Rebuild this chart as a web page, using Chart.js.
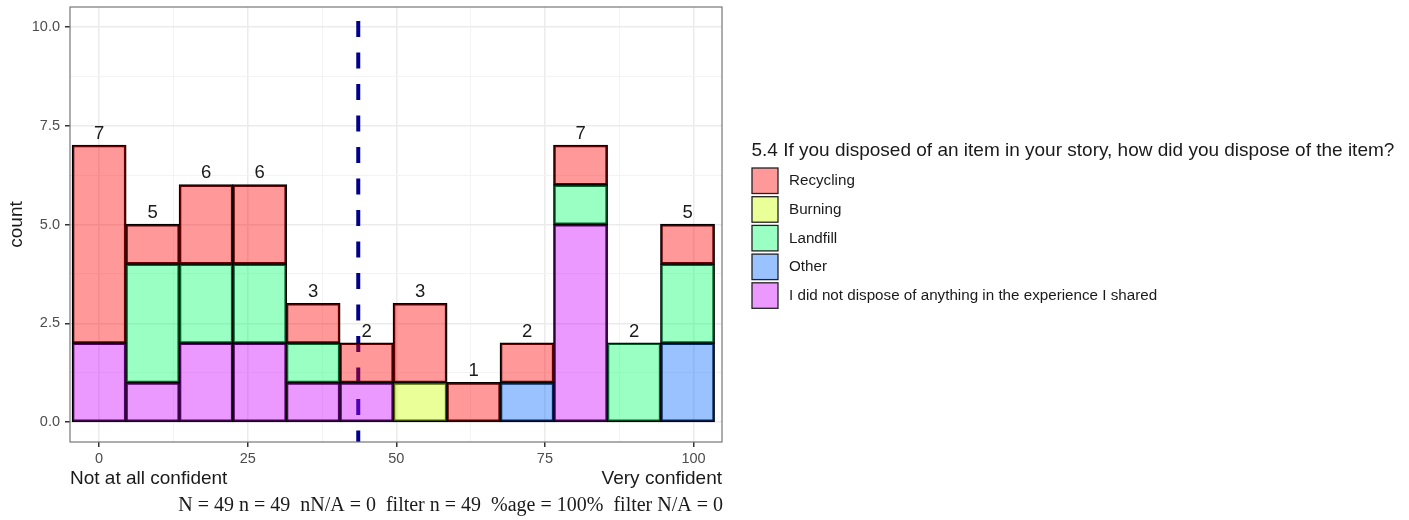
<!DOCTYPE html>
<html>
<head>
<meta charset="utf-8">
<script src="https://cdn.jsdelivr.net/npm/chart.js@4"></script>
<style>
  body { margin: 0; background: #fff; }
  #wrap { width: 1409px; height: 520px; }
</style>
</head>
<body>
<div id="wrap"><canvas id="myChart" width="1409" height="520"></canvas></div>
<script>
// histogram bins (centres) and stacked counts per disposal method
const bins = [0, 9, 18, 27, 36, 45, 54, 63, 72, 81, 90, 99];
const recycling = [5, 1, 2, 2, 1, 1, 2, 1, 1, 1, 0, 1];
const burning = [0, 0, 0, 0, 0, 0, 1, 0, 0, 0, 0, 0];
const landfill = [0, 3, 2, 2, 1, 0, 0, 0, 0, 1, 2, 2];
const other = [0, 0, 0, 0, 0, 0, 0, 0, 1, 0, 0, 2];
const noDisposal = [2, 1, 2, 2, 1, 1, 0, 0, 0, 5, 0, 0];

const seriesNames = ['Recycling', 'Burning', 'Landfill', 'Other', 'I did not dispose of anything in the experience I shared'];
const seriesColors = ['rgba(255,0,0,0.4)', 'rgba(204,255,0,0.4)', 'rgba(0,255,102,0.4)', 'rgba(0,102,255,0.4)', 'rgba(204,0,255,0.4)'];

const meanScore = 43.6;
const xTicks = [0, 25, 50, 75, 100];
const xMinor = [12.5, 37.5, 62.5, 87.5];
const yTicks = [0, 2.5, 5, 7.5, 10];
const yMinor = [1.25, 3.75, 6.25, 8.75];

const legendTitle = '5.4 If you disposed of an item in your story, how did you dispose of the item?';
const lowLabel = 'Not at all confident';
const highLabel = 'Very confident';
const caption = 'N = 49 n = 49  nN/A = 0  filter n = 49  %age = 100%  filter N/A = 0';

const SANS = '"Liberation Sans", Arial, sans-serif';
Chart.defaults.font.family = SANS;

function toPoints(vals) {
    return bins.map((x, i) => ({x: x, y: vals[i]})).filter(p => p.y > 0);
}

// stacked bottom -> top like ggplot
const stackOrder = [
    [noDisposal, 4], [other, 3], [landfill, 2], [burning, 1], [recycling, 0]
];
const datasets = stackOrder.map(([vals, k]) => ({
    label: seriesNames[k],
    data: toPoints(vals),
    backgroundColor: seriesColors[k],
    borderColor: '#000',
    borderWidth: 1.3,
    borderSkipped: false,
    inflateAmount: 0.65,
    barPercentage: 1,
    categoryPercentage: 1
}));

const totals = bins.map((b, i) => recycling[i] + burning[i] + landfill[i] + other[i] + noDisposal[i]);

const isMajorX = v => xTicks.includes(v);
const isMajorY = v => yTicks.includes(v);

const meanLine = {
    id: 'meanLine',
    beforeDatasetsDraw(chart) {
        const {ctx, chartArea} = chart;
        const x = chart.scales.x.getPixelForValue(meanScore);
        ctx.save();
        ctx.strokeStyle = '#00008B';
        ctx.lineWidth = 4;
        ctx.setLineDash([16, 15.5]);
        ctx.lineDashOffset = 17.5;
        ctx.beginPath();
        ctx.moveTo(x, chartArea.top);
        ctx.lineTo(x, chartArea.bottom);
        ctx.stroke();
        ctx.restore();
    }
};

const barLabels = {
    id: 'barLabels',
    afterDatasetsDraw(chart) {
        const {ctx} = chart;
        ctx.save();
        ctx.fillStyle = '#1a1a1a';
        ctx.font = '18.5px ' + SANS;
        ctx.textAlign = 'center';
        ctx.textBaseline = 'alphabetic';
        bins.forEach((b, i) => {
            const x = chart.scales.x.getPixelForValue(b);
            const y = chart.scales.y.getPixelForValue(totals[i]);
            ctx.fillText(String(totals[i]), x, y - 6.5);
        });
        ctx.restore();
    }
};

const decor = {
    id: 'decor',
    afterDraw(chart) {
        const {ctx, chartArea} = chart;
        ctx.save();
        // panel border
        ctx.strokeStyle = '#777';
        ctx.lineWidth = 1.2;
        ctx.strokeRect(chartArea.left, chartArea.top, chartArea.right - chartArea.left, chartArea.bottom - chartArea.top);

        // axis end labels
        ctx.fillStyle = '#1a1a1a';
        ctx.font = '19px ' + SANS;
        ctx.textBaseline = 'alphabetic';
        ctx.textAlign = 'left';
        ctx.fillText(lowLabel, chartArea.left, 484);
        ctx.textAlign = 'right';
        ctx.fillText(highLabel, chartArea.right, 484);

        // caption
        ctx.font = '20px "Liberation Serif", "Times New Roman", serif';
        ctx.fillText(caption, chartArea.right + 1, 511);

        // legend
        const lx = 752;
        ctx.textAlign = 'left';
        ctx.font = '19px ' + SANS;
        ctx.fillText(legendTitle, lx - 0.5, 155.5);
        ctx.font = '15.2px ' + SANS;
        ctx.textBaseline = 'middle';
        seriesNames.forEach((name, k) => {
            const y = 168 + k * 28.7;
            ctx.fillStyle = '#fff';
            ctx.fillRect(lx, y, 26, 25.5);
            ctx.fillStyle = seriesColors[k];
            ctx.fillRect(lx, y, 26, 25.5);
            ctx.strokeStyle = '#222';
            ctx.lineWidth = 1.3;
            ctx.strokeRect(lx, y, 26, 25.5);
            ctx.fillStyle = '#1a1a1a';
            ctx.fillText(name, 789, y + 13);
        });
        ctx.restore();
    }
};

new Chart(document.getElementById('myChart'), {
    type: 'bar',
    data: {datasets: datasets},
    options: {
        responsive: false,
        animation: false,
        layout: {padding: {left: 0, top: 7, right: 1409 - 722, bottom: 0}},
        plugins: {legend: {display: false}, tooltip: {enabled: false}},
        scales: {
            x: {
                type: 'linear',
                min: -4.9,
                max: 104.8,
                stacked: true,
                offset: false,
                border: {display: false},
                grid: {
                    offset: false,
                    color: c => isMajorX(c.tick.value) ? '#EBEBEB' : '#F3F3F3',
                    lineWidth: c => isMajorX(c.tick.value) ? 1.5 : 1,
                    tickColor: c => isMajorX(c.tick.value) ? '#333' : 'rgba(0,0,0,0)',
                    tickLength: 5
                },
                afterBuildTicks: s => { s.ticks = xTicks.concat(xMinor).sort((a, b) => a - b).map(v => ({value: v})); },
                afterFit: s => { s.height = 78; s.paddingLeft = 0; s.paddingRight = 0; },
                ticks: {
                    autoSkip: false,
                    maxRotation: 0,
                    padding: 3,
                    color: '#4D4D4D',
                    font: {size: 14.5},
                    callback: v => isMajorX(v) ? String(v) : ''
                }
            },
            y: {
                min: -0.5,
                max: 10.5,
                stacked: true,
                border: {display: false},
                grid: {
                    color: c => isMajorY(c.tick.value) ? '#EBEBEB' : '#F3F3F3',
                    lineWidth: c => isMajorY(c.tick.value) ? 1.5 : 1,
                    tickColor: c => isMajorY(c.tick.value) ? '#333' : 'rgba(0,0,0,0)',
                    tickLength: 5
                },
                afterBuildTicks: s => { s.ticks = yTicks.concat(yMinor).sort((a, b) => a - b).map(v => ({value: v})); },
                afterFit: s => { s.width = 70; s.paddingTop = 0; s.paddingBottom = 0; },
                title: {
                    display: true,
                    text: 'count',
                    color: '#1a1a1a',
                    font: {size: 19},
                    padding: {top: 5, bottom: 0}
                },
                ticks: {
                    autoSkip: false,
                    padding: 5,
                    color: '#4D4D4D',
                    font: {size: 14.5},
                    callback: v => isMajorY(v) ? v.toFixed(1) : ''
                }
            }
        }
    },
    plugins: [meanLine, barLabels, decor]
});
</script>
</body>
</html>
